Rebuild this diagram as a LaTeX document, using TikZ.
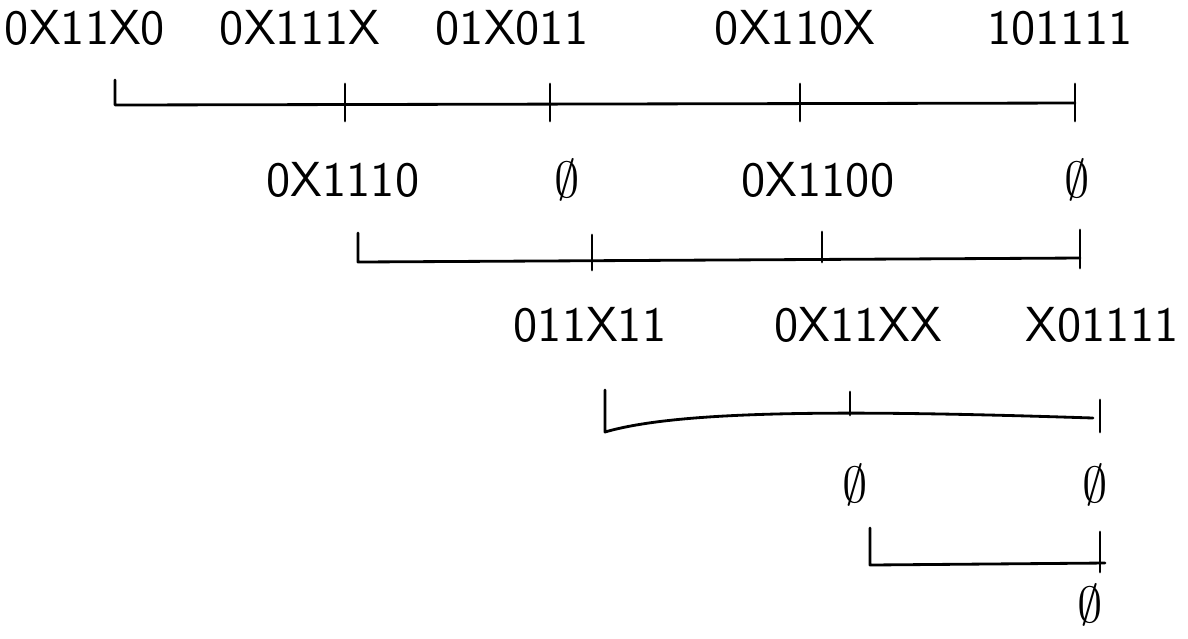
\documentclass[tikz,border=0pt]{standalone}
\usepackage{amssymb}
\usepackage{tikz}
\usetikzlibrary{positioning}
\tikzset{
    cube/.style={font=\sffamily\fontsize{14}{17}\selectfont, inner sep=1pt},
    bar/.style={line width=0.8pt, line cap=round, line join=round},
}

\begin{document}
\begin{tikzpicture}[x=0.01cm, y=-0.01cm]
\useasboundingbox (0,0) rectangle (1188,638);
% first row
\node[cube] (a1) at (85,28) {0X11X0};
\node[cube] (a2) at (300,28) {0X111X};
\node[cube] (a3) at (512,28) {01X011};
\node[cube] (a4) at (795,28) {0X110X};
\node[cube] (a5) at (1060,28) {101111};
\coordinate (p1) at (115,80);
\coordinate (q1) at (115,105);
\coordinate (r1) at (1075,103);
\draw[bar] (p1) -- (q1) -- (r1);
\foreach \x in {345,550,800,1075}
    \draw[bar] (\x,84) -- (\x,121);
% second row
\node[cube] (b1) at (343,180) {0X1110};
\node[cube] (b2) at (567,180) {$\emptyset$};
\node[cube] (b3) at (818,180) {0X1100};
\node[cube] (b4) at (1077,180) {$\emptyset$};
\coordinate (p2) at (358,233);
\coordinate (q2) at (358,262);
\coordinate (r2) at (1080,258);
\draw[bar] (p2) -- (q2) -- (r2);
\foreach \x/\ya/\yb in {592/235/270, 822/232/262, 1080/230/268}
    \draw[bar] (\x,\ya) -- (\x,\yb);
% third row
\node[cube] (c1) at (590,325) {011X11};
\node[cube] (c2) at (858,325) {0X11XX};
\node[cube] (c3) at (1102,325) {X01111};
\coordinate (p3) at (605,390);
\coordinate (q3) at (605,432);
\coordinate (r3) at (1093,418);
\draw[bar] (p3) -- (q3) .. controls (680,410) and (850,410) .. (r3);
\foreach \x/\ya/\yb in {850/392/415, 1100/400/432}
    \draw[bar] (\x,\ya) -- (\x,\yb);
% fourth row
\node[cube] (d1) at (855,485) {$\emptyset$};
\node[cube] (d2) at (1095,485) {$\emptyset$};
\coordinate (p4) at (870,528);
\coordinate (q4) at (870,565);
\coordinate (r4) at (1105,563);
\draw[bar] (p4) -- (q4) -- (r4);
\draw[bar] (1100,532) -- (1100,572);
% last
\node[cube] (e1) at (1090,605) {$\emptyset$};
\end{tikzpicture}
\end{document}
